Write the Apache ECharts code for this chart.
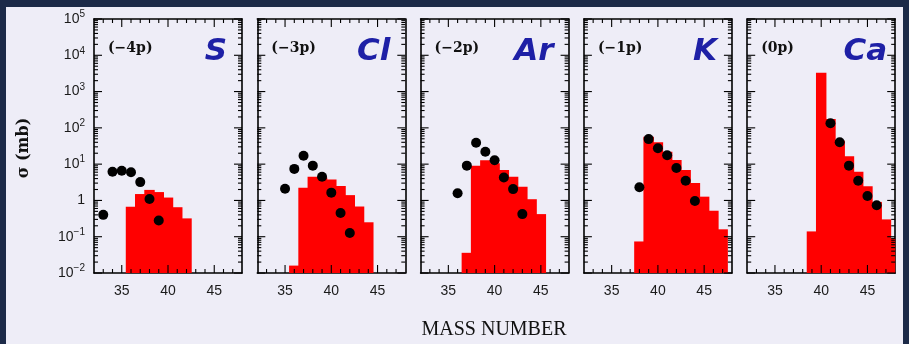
<!DOCTYPE html>
<html><head><meta charset="utf-8">
<script src="https://cdn.jsdelivr.net/npm/echarts@6/dist/echarts.min.js"></script>
<style>
html,body{margin:0;padding:0;width:909px;height:344px;overflow:hidden;background:#1c2a48;}
#bg{position:absolute;left:6px;top:7px;width:897px;height:337px;background:#eeedf7;}
#chart{position:absolute;left:0;top:0;width:909px;height:344px;}
</style></head><body><div id="bg"></div><div id="chart"></div>
<script>
// ---- data ----
const elements = ['S', 'Cl', 'Ar', 'K', 'Ca'];
const channels = ['(−4p)', '(−3p)', '(−2p)', '(−1p)', '(0p)'];
const xTickLabels = [35, 40, 45];
const yTickLabels = [0.01, 0.1, 1, 10, 100, 1000, 10000, 100000];

const S_barMass = [36, 37, 38, 39, 40, 41, 42];
const S_bar = [0.67, 1.5, 1.95, 1.7, 1.2, 0.65, 0.32];
const S_dotMass = [33, 34, 35, 36, 37, 38, 39];
const S_dot = [0.4, 6.2, 6.6, 6.0, 3.2, 1.1, 0.28];

const Cl_barMass = [36, 37, 38, 39, 40, 41, 42, 43, 44];
const Cl_bar = [0.016, 2.25, 4.5, 4.3, 3.8, 2.5, 1.4, 0.68, 0.25];
const Cl_dotMass = [35, 36, 37, 38, 39, 40, 41, 42];
const Cl_dot = [2.1, 7.4, 17, 9.1, 4.5, 1.64, 0.45, 0.126];

const Ar_barMass = [37, 38, 39, 40, 41, 42, 43, 44, 45];
const Ar_bar = [0.036, 9.1, 12.8, 10.5, 6.9, 4.5, 2.4, 1.08, 0.42];
const Ar_dotMass = [36, 37, 38, 39, 40, 41, 42, 43];
const Ar_dot = [1.58, 9.1, 39, 22, 12.8, 4.3, 2.05, 0.42];

const K_barMass = [38, 39, 40, 41, 42, 43, 44, 45, 46, 47];
const K_bar = [0.074, 57, 40, 22, 13, 6.9, 3.0, 1.27, 0.52, 0.16];
const K_dotMass = [38, 39, 40, 41, 42, 43, 44];
const K_dot = [2.3, 49, 27.5, 17.6, 7.8, 3.5, 0.96];

const Ca_barMass = [39, 40, 41, 42, 43, 44, 45, 46, 47, 48];
const Ca_bar = [0.14, 3300, 176, 44, 16.6, 6.2, 2.45, 0.91, 0.30, 0.09];
const Ca_dotMass = [41, 42, 43, 44, 45, 46];
const Ca_dot = [134, 40, 9.1, 3.5, 1.33, 0.74];

const barMasses = [S_barMass, Cl_barMass, Ar_barMass, K_barMass, Ca_barMass];
const barValues = [S_bar, Cl_bar, Ar_bar, K_bar, Ca_bar];
const dotMasses = [S_dotMass, Cl_dotMass, Ar_dotMass, K_dotMass, Ca_dotMass];
const dotValues = [S_dot, Cl_dot, Ar_dot, K_dot, Ca_dot];

// ---- tick positions (axis furniture) ----
const X_MIN = 32, X_MAX = 48, Y_MIN = 0.01, Y_MAX = 1e5;
const xMinorTicks = [];
for (let m = 33; m <= 47; m++) if (xTickLabels.indexOf(m) < 0) xMinorTicks.push(m);
const yMinorTicks = [];
for (let n = -2; n < 5; n++) for (let k = 2; k <= 9; k++) yMinorTicks.push(k * Math.pow(10, n));

// ---- layout ----
const gridLeft0 = 94, gridStep = 163.3, gridW = 148, gridTop = 19, gridH = 254;
const majorLen = 8, minorLen = 4;
const lineSt = {color: '#000', width: 1.6};
const tickStyle = {stroke: '#000', lineWidth: 1.1};

const grids = [], xAxes = [], yAxes = [], series = [], graphics = [];

function renderHist(params, api) {
  const x = api.value(0), v = api.value(1);
  const p1 = api.coord([x - 0.5, v]);
  const p2 = api.coord([x + 0.5, Y_MIN]);
  const cs = params.coordSys;
  const r = echarts.graphic.clipRectByRect(
    {x: p1[0] - 0.6, y: p1[1], width: p2[0] - p1[0] + 1.2, height: p2[1] - p1[1]},
    {x: cs.x, y: cs.y, width: cs.width, height: cs.height});
  return r && {type: 'rect', shape: r, style: {fill: '#ff0000'}};
}
function renderXTick(params, api) {
  const m = api.value(0), len = api.value(2);
  const b = api.coord([m, Y_MIN]), t = api.coord([m, Y_MAX]);
  return {type: 'group', children: [
    {type: 'line', shape: {x1: b[0], y1: b[1], x2: b[0], y2: b[1] - len}, style: tickStyle},
    {type: 'line', shape: {x1: t[0], y1: t[1], x2: t[0], y2: t[1] + len}, style: tickStyle}
  ]};
}
function renderYTick(params, api) {
  const v = api.value(1), len = api.value(2);
  const l = api.coord([X_MIN, v]), r = api.coord([X_MAX, v]);
  return {type: 'group', children: [
    {type: 'line', shape: {x1: l[0], y1: l[1], x2: l[0] + len, y2: l[1]}, style: tickStyle},
    {type: 'line', shape: {x1: r[0], y1: r[1], x2: r[0] - len, y2: r[1]}, style: tickStyle}
  ]};
}

function supLabel(v) {
  const n = Math.round(Math.log10(v));
  if (n === 0) return '{b|1}';
  return '{b|10}{s|' + (n < 0 ? '−' + (-n) : n) + '}';
}

elements.forEach((el, i) => {
  const left = gridLeft0 + i * gridStep;
  grids.push({left: left, top: gridTop, width: gridW, height: gridH});
  const xData = xAxes.length;
  ['bottom', 'top'].forEach(pos => {
    xAxes.push({gridIndex: i, type: 'value', min: X_MIN, max: X_MAX, position: pos,
      splitLine: {show: false},
      axisLine: {show: true, onZero: false, lineStyle: lineSt},
      axisTick: {show: false},
      axisLabel: pos === 'bottom'
        ? {show: true, customValues: xTickLabels, fontSize: 14, color: '#1a1a1a', margin: 11, fontFamily: 'Liberation Sans'}
        : {show: false}
    });
  });
  const yData = yAxes.length;
  ['left', 'right'].forEach(pos => {
    yAxes.push({gridIndex: i, type: 'log', logBase: 10, min: Y_MIN, max: Y_MAX, position: pos,
      splitNumber: 7,
      splitLine: {show: false},
      axisLine: {show: true, onZero: false, lineStyle: lineSt},
      axisTick: {show: false},
      axisLabel: (pos === 'left' && i === 0) ? {
        show: true, margin: 9, color: '#1a1a1a',
        customValues: yTickLabels,
        formatter: v => supLabel(v),
        rich: {
          b: {fontSize: 14, fontFamily: 'Liberation Sans', color: '#1a1a1a'},
          s: {fontSize: 10, fontFamily: 'Liberation Sans', color: '#1a1a1a', padding: [0, 0, 9, 0]}
        }
      } : {show: false}
    });
  });

  series.push({
    type: 'custom', xAxisIndex: xData, yAxisIndex: yData,
    renderItem: renderHist, encode: {x: 0, y: 1}, z: 2, silent: true,
    data: barMasses[i].map((m, j) => [m, barValues[i][j]])
  });
  series.push({
    type: 'custom', xAxisIndex: xData, yAxisIndex: yData,
    renderItem: renderXTick, encode: {x: 0, y: 1}, z: 4, silent: true,
    data: xTickLabels.map(m => [m, 1, majorLen]).concat(xMinorTicks.map(m => [m, 1, minorLen]))
  });
  series.push({
    type: 'custom', xAxisIndex: xData, yAxisIndex: yData,
    renderItem: renderYTick, encode: {x: 0, y: 1}, z: 4, silent: true,
    data: yTickLabels.map(v => [40, v, majorLen]).concat(yMinorTicks.map(v => [40, v, minorLen]))
  });
  series.push({
    type: 'scatter', xAxisIndex: xData, yAxisIndex: yData,
    symbol: 'circle', symbolSize: 10, itemStyle: {color: '#000', opacity: 1}, z: 5,
    data: dotMasses[i].map((m, j) => [m, dotValues[i][j]])
  });

  graphics.push({type: 'text', x: left + 14, y: 48, z: 10,
    style: {text: channels[i], fill: '#111', font: 'bold 14px "DejaVu Serif"',
      align: 'left', verticalAlign: 'middle', textAlign: 'left', textVerticalAlign: 'middle'}});
  graphics.push({type: 'text', x: left + (i === 4 ? 140 : 133), y: 52, z: 10,
    style: {text: el, fill: '#1e20a6', font: 'italic bold 31px "DejaVu Sans"',
      align: 'right', verticalAlign: 'middle', textAlign: 'right', textVerticalAlign: 'middle'}});
});

graphics.push({type: 'text', x: 24, y: 148, rotation: Math.PI / 2, z: 10,
  style: {text: 'σ (mb)', fill: '#111', font: 'bold 16px "DejaVu Serif"',
    align: 'center', verticalAlign: 'middle', textAlign: 'center', textVerticalAlign: 'middle'}});
graphics.push({type: 'text', x: 494, y: 330, z: 10,
  style: {text: 'MASS NUMBER', fill: '#111', font: '20px "Liberation Serif"',
    align: 'center', verticalAlign: 'middle', textAlign: 'center', textVerticalAlign: 'middle'}});

const chart = echarts.init(document.getElementById('chart'), null, {renderer: 'canvas'});
chart.setOption({
  animation: false,
  backgroundColor: 'transparent',
  grid: grids,
  xAxis: xAxes,
  yAxis: yAxes,
  series: series,
  graphic: graphics
});
</script></body></html>
